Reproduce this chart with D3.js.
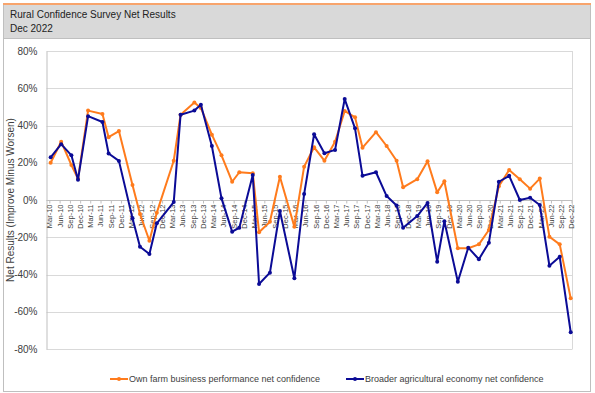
<!DOCTYPE html>
<html>
<head>
<meta charset="utf-8">
<script src="https://cdn.jsdelivr.net/npm/d3@7"></script>
<style>
  body { margin: 0; background: #fff; }
  svg text { font-family: "Liberation Sans", Arial, sans-serif; }
</style>
</head>
<body>
<div id="chart"></div>
<script>
// survey dates (labelled quarterly on the axis)
var surveyDates = [
  "2010-03-13", "2010-06-15", "2010-09-14", "2010-11-12", "2011-02-10", "2011-06-18",
  "2011-08-12", "2011-11-12", "2012-03-12", "2012-05-18", "2012-08-10", "2012-10-15",
  "2013-03-15", "2013-05-15", "2013-09-15", "2013-11-12", "2014-02-18", "2014-05-15",
  "2014-08-18", "2014-10-21", "2015-02-18", "2015-04-15", "2015-07-21", "2015-10-18",
  "2016-02-24", "2016-05-21", "2016-08-18", "2016-11-18", "2017-02-21", "2017-05-18",
  "2017-08-18", "2017-10-24", "2018-02-21", "2018-05-27", "2018-08-24", "2018-10-21",
  "2019-02-24", "2019-05-27", "2019-08-21", "2019-10-24", "2020-02-21", "2020-05-24",
  "2020-08-27", "2020-11-24", "2021-02-21", "2021-05-24", "2021-08-27", "2021-11-27",
  "2022-02-21", "2022-05-18", "2022-08-18", "2022-11-24"
];

// net confidence, percent
var ownFarm = [
  20.0, 31.3, 18.8, 11.4, 48.0, 46.2, 33.7, 37.0, 8.0, -7.5, -21.9, -6.8,
  21.1, 45.8, 52.3, 49.4, 35.1, 24.0, 9.8, 14.9, 14.3, -17.3, -11.7, 12.5,
  -14.3, 17.9, 28.3, 21.1, 31.3, 47.8, 44.4, 28.1, 36.4, 29.0, 21.1, 6.8,
  11.2, 20.8, 4.1, 10.1, -25.9, -25.9, -23.8, -16.1, 7.4, 16.1, 11.2, 6.1,
  11.5, -19.7, -23.8, -52.8
];
var broaderEconomy = [
  22.9, 30.0, 24.0, 10.9, 45.0, 41.9, 25.0, 21.0, -9.8, -25.1, -29.0, -12.5,
  -1.1, 45.8, 48.0, 51.2, 29.0, 0.9, -17.0, -14.9, 13.4, -45.1, -39.0, -5.9,
  -42.0, 3.2, 35.3, 25.1, 26.9, 54.2, 38.5, 13.0, 14.9, 2.1, -3.0, -14.9,
  -8.6, -1.6, -33.1, -11.4, -43.9, -25.6, -31.8, -22.9, 9.8, 13.0, 0.0, 1.2,
  -2.7, -35.3, -30.5, -71.0
];

var yTicks = [-80, -60, -40, -20, 0, 20, 40, 60, 80];
var firstTick = "2010-03-01", tickCount = 52; // Mar-10 ... Dec-22, every 3 months
var seriesNames = [
  "Own farm business performance net confidence",
  "Broader agricultural economy net confidence"
];
var seriesColors = ["#ff7b1c", "#0b0b96"];

var parseDate = d3.utcParse("%Y-%m-%d");
var dates = surveyDates.map(parseDate);

var width = 595, height = 393;
var svg = d3.select("#chart").append("svg")
    .attr("width", width)
    .attr("height", height);

// outer frame and header band
svg.append("rect")
    .attr("x", 3.5).attr("y", 4.5).attr("width", 587).attr("height", 387)
    .attr("fill", "#fff").attr("stroke", "#bfbfbf");
svg.append("rect")
    .attr("x", 3.5).attr("y", 4.5).attr("width", 587).attr("height", 34)
    .attr("fill", "#d9d9d9").attr("stroke", "#bfbfbf");
svg.append("line")
    .attr("x1", 3).attr("x2", 591).attr("y1", 4).attr("y2", 4)
    .attr("stroke", "#f8a46c").attr("stroke-width", 2);
svg.append("text").attr("x", 10).attr("y", 18)
    .attr("font-size", 10).attr("fill", "#222")
    .text("Rural Confidence Survey Net Results");
svg.append("text").attr("x", 10).attr("y", 32)
    .attr("font-size", 10).attr("fill", "#222")
    .text("Dec 2022");

var plot = {left: 46.5, right: 572.5, top: 51, bottom: 349};

var x = d3.scaleUtc()
    .domain([new Date(Date.UTC(2010, 2, 1)), new Date(Date.UTC(2022, 11, 1))])
    .range([49.3, 571.5]);
var y = d3.scaleLinear().domain([-80, 80]).range([plot.bottom, plot.top]);

// gridlines
svg.append("g").selectAll("line")
    .data(yTicks)
  .enter().append("line")
    .attr("x1", plot.left).attr("x2", plot.right)
    .attr("y1", function(d) { return Math.round(y(d)) + 0.5; })
    .attr("y2", function(d) { return Math.round(y(d)) + 0.5; })
    .attr("stroke", "#d9d9d9");
svg.append("line")
    .attr("x1", plot.right).attr("x2", plot.right)
    .attr("y1", plot.top).attr("y2", plot.bottom)
    .attr("stroke", "#d9d9d9");

// y axis
var yAxis = svg.append("g")
    .attr("transform", "translate(" + plot.left + ",0)")
    .call(d3.axisLeft(y).tickValues(yTicks).tickSize(0).tickPadding(9)
        .tickFormat(function(d) { return d + "%"; }));
yAxis.select(".domain").attr("stroke", "#bfbfbf");
yAxis.selectAll("text").attr("font-size", 10).attr("fill", "#404040")
    .attr("font-family", "Liberation Sans, Arial, sans-serif");

svg.append("text")
    .attr("transform", "translate(14," + ((plot.top + plot.bottom) / 2) + ") rotate(-90)")
    .attr("text-anchor", "middle")
    .attr("font-size", 10).attr("fill", "#404040")
    .text("Net Results (Improve Minus Worsen)");

// x axis at 0%
var tick0 = parseDate(firstTick);
var xTickDates = d3.range(tickCount).map(function(i) { return d3.utcMonth.offset(tick0, 3 * i); });
var xAxis = svg.append("g")
    .attr("transform", "translate(0," + (Math.round(y(0)) + 0.5) + ")")
    .call(d3.axisBottom(x).tickValues(xTickDates).tickSize(3).tickPadding(2)
        .tickFormat(d3.utcFormat("%b-%y")));
xAxis.select(".domain").attr("stroke", "#bfbfbf")
    .attr("d", "M" + plot.left + ",0H" + plot.right);
xAxis.selectAll(".tick line").attr("stroke", "#bfbfbf");
xAxis.selectAll("text")
    .attr("font-size", 7.5).attr("fill", "#404040")
    .attr("font-family", "Liberation Sans, Arial, sans-serif")
    .attr("text-anchor", "end")
    .attr("dy", "0.32em")
    .attr("transform", "translate(0,4) rotate(-90)")
    .attr("x", 0).attr("y", 0);

// series
var series = [ownFarm, broaderEconomy];
var line = d3.line()
    .x(function(d, i) { return x(dates[i]); })
    .y(function(d) { return y(d); });

series.forEach(function(values, s) {
    svg.append("path")
        .datum(values)
        .attr("fill", "none")
        .attr("stroke", seriesColors[s])
        .attr("stroke-width", 2)
        .attr("stroke-linejoin", "round")
        .attr("d", line);
    svg.append("g").selectAll("circle")
        .data(values)
      .enter().append("circle")
        .attr("cx", function(d, i) { return x(dates[i]); })
        .attr("cy", function(d) { return y(d); })
        .attr("r", 2)
        .attr("fill", seriesColors[s]);
});

// legend
var legendX = [110, 346];
series.forEach(function(values, s) {
    var g = svg.append("g").attr("transform", "translate(" + legendX[s] + ",379)");
    g.append("line").attr("x1", 0).attr("x2", 18)
        .attr("stroke", seriesColors[s]).attr("stroke-width", 2);
    g.append("circle").attr("cx", 9).attr("r", 2).attr("fill", seriesColors[s]);
    g.append("text").attr("x", 19).attr("dy", "0.35em")
        .attr("font-size", 9).attr("fill", "#404040")
        .text(seriesNames[s]);
});
</script>
</body>
</html>
